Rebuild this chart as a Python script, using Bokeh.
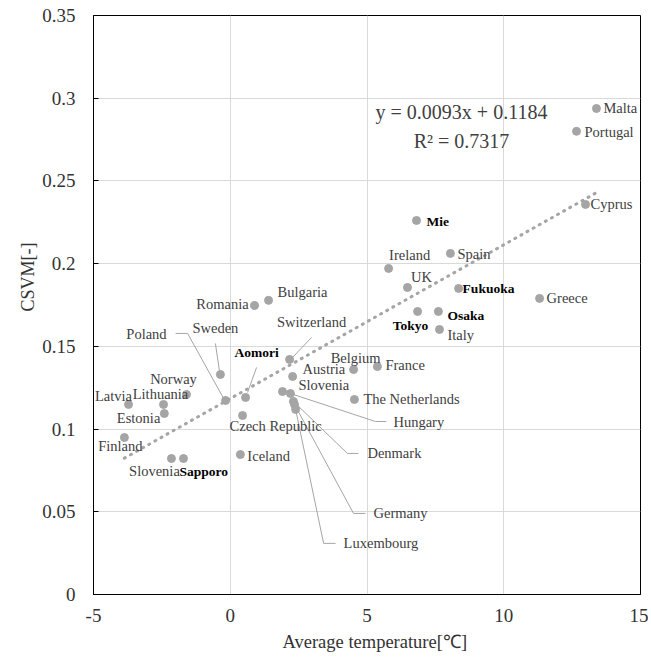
import math
from bokeh.plotting import figure
from bokeh.models import ColumnDataSource, FixedTicker, CustomJSTickFormatter, Label, Range1d, Title
from bokeh.embed import file_html
from bokeh.resources import INLINE
from bokeh.core.properties import value

# ---------------- data ----------------
countries = ["Malta", "Portugal", "Cyprus", "Spain", "Ireland", "UK", "Greece", "Italy",
             "France", "Belgium", "The Netherlands", "Switzerland", "Austria", "Slovenia",
             "Hungary", "Denmark", "Germany", "Luxembourg", "Romania", "Bulgaria", "Sweden",
             "Poland", "Czech Republic", "Iceland", "Latvia", "Lithuania", "Estonia", "Norway",
             "Finland", "Slovenia "]
country_temp = [13.39, 12.66, 12.99, 8.05, 5.79, 6.48, 11.31, 7.65,
                5.38, 4.51, 4.54, 2.17, 2.28, 1.91,
                2.20, 2.31, 2.35, 2.39, 0.89, 1.40, -0.36,
                -0.17, 0.45, 0.37, -3.72, -2.44, -2.41, -1.60,
                -3.87, -2.15]
country_csvm = [0.2938, 0.2800, 0.2358, 0.2062, 0.1971, 0.1856, 0.1790, 0.1602,
                0.1378, 0.1360, 0.1179, 0.1421, 0.1318, 0.1227,
                0.1215, 0.1167, 0.1149, 0.1119, 0.1747, 0.1778, 0.1330,
                0.1173, 0.1082, 0.0846, 0.1149, 0.1149, 0.1094, 0.1209,
                0.0949, 0.0822]

cities = ["Mie", "Fukuoka", "Osaka", "Tokyo", "Aomori", "Sapporo"]
city_temp = [6.81, 8.35, 7.61, 6.85, 0.56, -1.71]
city_csvm = [0.2261, 0.1850, 0.1711, 0.1711, 0.1191, 0.0822]

trend_slope = 0.0093
trend_intercept = 0.1184
r_squared = 0.7317

x_ticks = [-5, 0, 5, 10, 15]
y_ticks = [0, 0.05, 0.1, 0.15, 0.2, 0.25, 0.3, 0.35]

# ---------------- layout / style (pixels) ----------------
X_START, X_END = -5, 15
Y_START, Y_END = 0, 0.35
W, H = 648, 662
BL, BR, BT, BB = 93, 8, 15, 68
FW = W - BL - BR
FH = H - BT - BB
PXX = FW / (X_END - X_START)
PXY = FH / (Y_END - Y_START)

# label offsets in pixels (dx, dy down-positive, align)
label_pos = {
    "Malta": (7, 0, "left"), "Portugal": (8, 1, "left"), "Cyprus": (5, 0, "left"),
    "Spain": (7, 1, "left"), "Ireland": (21, -13, "center"), "UK": (14, -10, "center"),
    "Greece": (7, 0, "left"), "Italy": (8, 6, "left"), "France": (8, -2, "left"),
    "Belgium": (2, -12, "center"), "The Netherlands": (9, 0, "left"),
    "Switzerland": (22, -37, "center"), "Austria": (10, -7, "left"), "Slovenia": (16, -7, "left"),
    "Hungary": (103, 28, "left"), "Denmark": (74, 52, "left"), "Germany": (79, 109, "left"),
    "Luxembourg": (48, 134, "left"), "Romania": (-6, -1, "right"), "Bulgaria": (9, -8, "left"),
    "Sweden": (-5, -46, "center"), "Poland": (-59, -66, "right"), "Czech Republic": (-13, 10, "left"),
    "Iceland": (7, 1, "left"), "Latvia": (-15, -8, "center"), "Lithuania": (-3, -10, "center"),
    "Estonia": (-4, 4, "right"), "Norway": (-13, -15, "center"), "Finland": (-4, 8, "center"),
    "Slovenia ": (-17, 12, "center"),
    "Mie": (10, 1, "left"), "Fukuoka": (4, 0, "left"), "Osaka": (9, 4, "left"),
    "Tokyo": (-7, 14, "center"), "Aomori": (11, -45, "center"), "Sapporo": (-4, 13, "left"),
}
leaders = {
    "Switzerland": [(22, -22), (2, -1)],
    "Sweden": [(-5, -31), (-1, -4)],
    "Poland": [(-50, -67), (-38, -67), (-2, -2)],
    "Aomori": [(11, -30), (2, -5)],
    "Hungary": [(0, 0), (85, 28), (96, 28)],
    "Denmark": [(0, 0), (54, 52), (65, 52)],
    "Germany": [(0, 0), (59, 109), (71, 109)],
    "Luxembourg": [(0, 0), (28, 134), (40, 134)],
}

SERIF = "Liberation Serif"
GRAY = "#A5A5A5"

p = figure(width=W, height=H, output_backend="svg", toolbar_location=None,
           x_range=Range1d(X_START, X_END), y_range=Range1d(Y_START, Y_END),
           min_border_left=BL, min_border_right=BR, min_border_top=BT, min_border_bottom=BB)
p.background_fill_color = "white"
p.border_fill_color = "white"
p.outline_line_color = "black"
p.outline_line_width = 1

p.xaxis.ticker = FixedTicker(ticks=x_ticks)
p.yaxis.ticker = FixedTicker(ticks=y_ticks)
p.xaxis.formatter = CustomJSTickFormatter(code="return String(Math.round(tick));")
p.yaxis.formatter = CustomJSTickFormatter(code="return String(Math.round(tick*100)/100);")
for ax in (p.xaxis, p.yaxis):
    ax.axis_line_color = "black"
    ax.major_label_text_font = SERIF
    ax.major_label_text_font_size = "19px"
    ax.major_label_text_color = "#333333"
    ax.minor_tick_line_color = None
    ax.major_tick_out = 0
p.yaxis.major_tick_in = 5
p.yaxis.major_tick_line_color = "black"
p.xaxis.major_tick_in = 0
p.xaxis.major_label_standoff = 14
p.yaxis.major_label_standoff = 18

p.xgrid.ticker = FixedTicker(ticks=x_ticks)
p.ygrid.ticker = FixedTicker(ticks=y_ticks)
p.grid.grid_line_color = "#D9D9D9"
p.grid.grid_line_width = 1

# axis titles
p.add_layout(Title(text="Average temperature[℃]", align="left", offset=189,
                   text_font=SERIF, text_font_size="18.5px", text_font_style="normal",
                   text_color="#333333", standoff=10), "below")
p.add_layout(Title(text="CSVM[-]", align="right", offset=227,
                   text_font=SERIF, text_font_size="18px", text_font_style="normal",
                   text_color="#333333", standoff=4), "left")

# trend line
tx = [min(country_temp + city_temp), max(country_temp + city_temp)]
ty = [trend_slope * v + trend_intercept for v in tx]
p.line(tx, ty, line_color=GRAY, line_width=3, line_dash="1 6", line_cap="round")

# leader lines
pts = {n: (x, y) for n, x, y in zip(countries + cities, country_temp + city_temp, country_csvm + city_csvm)}
for name, segs in leaders.items():
    x0, y0 = pts[name]
    xs = [x0 + dx / PXX for dx, dy in segs]
    ys = [y0 - dy / PXY for dx, dy in segs]
    p.line(xs, ys, line_color=GRAY, line_width=1)

# points
p.scatter(country_temp + city_temp, country_csvm + city_csvm, size=8,
          fill_color=GRAY, line_color=GRAY, marker="circle")

def add_labels(names, xs, ys, color, size, style):
    for align in ("left", "center", "right"):
        d = dict(x=[], y=[], t=[], dx=[], dy=[])
        for n, x, y in zip(names, xs, ys):
            dx, dy, a = label_pos[n]
            if a != align:
                continue
            d["x"].append(x); d["y"].append(y); d["t"].append(n.strip())
            d["dx"].append(dx); d["dy"].append(dy)
        if not d["x"]:
            continue
        p.text("x", "y", text="t", x_offset="dx", y_offset="dy", source=ColumnDataSource(d),
               text_align=align, text_baseline="middle", text_font=value(SERIF),
               text_font_size=size, text_color=color, text_font_style=style)

add_labels(countries, country_temp, country_csvm, "#404040", "14.5px", "normal")
add_labels(cities, city_temp, city_csvm, "black", "13.5px", "bold")

# regression equation
eq_x = -5 + (461 - BL) / PXX
p.add_layout(Label(x=eq_x, y=(594 - 111) / PXY, text=f"y = {trend_slope}x + {trend_intercept}",
                   text_align="center", text_baseline="middle", text_font=SERIF,
                   text_font_size="20px", text_color="#404040"))
p.add_layout(Label(x=eq_x, y=(594 - 140) / PXY, text=f"R² = {r_squared}",
                   text_align="center", text_baseline="middle", text_font=SERIF,
                   text_font_size="20px", text_color="#404040"))

open("out.html", "w").write(file_html(p, INLINE))
